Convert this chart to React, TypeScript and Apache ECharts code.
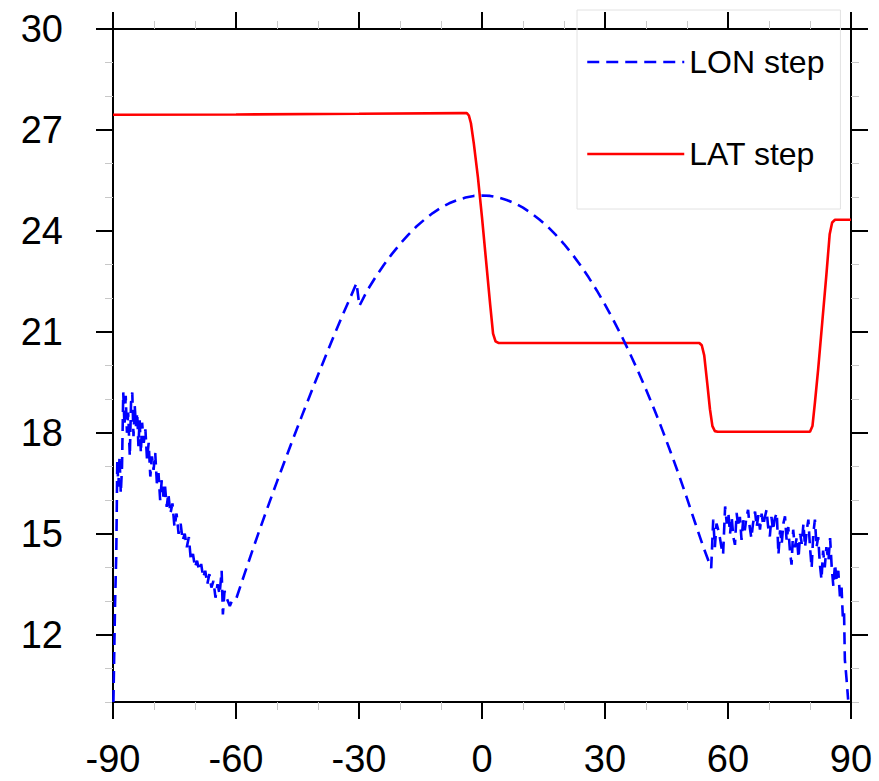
import React, { useEffect, useRef } from "react";
import * as echarts from "echarts";

const FONT = "'Liberation Sans', Arial, Helvetica, sans-serif";

// x axis ticks
const xMajorTicks = [-90, -60, -30, 0, 30, 60, 90];
// y axis ticks
const yMajorTicks = [12, 15, 18, 21, 24, 27, 30];
const yMinorTicks = [10, 11, 13, 14, 16, 17, 19, 20, 22, 23, 25, 26, 28, 29];

const seriesNames = ["LON step", "LAT step"];

// LON step (blue, dashed) — west noisy part
const lonWestNoisy: [number, number][] = [
  [-89.9, 10.0], [-89.5, 12.9], [-89.2, 14.4], [-88.95, 17.2], [-88.7, 16.4], [-88.4, 17.3],
  [-88.1, 16.2], [-87.8, 17.0], [-87.5, 19.2], [-87.2, 18.2], [-86.9, 19.1], [-86.6, 18.0],
  [-86.3, 18.6], [-85.9, 17.3], [-85.6, 18.9], [-85.3, 19.2], [-85.0, 17.9], [-84.7, 18.8],
  [-84.4, 18.2], [-84.1, 18.6], [-83.8, 17.6], [-83.5, 18.4], [-83.2, 17.4], [-82.9, 18.3],
  [-82.5, 17.7], [-82.1, 18.1], [-81.7, 17.2], [-81.3, 17.7], [-80.9, 16.7], [-80.5, 17.3],
  [-80.1, 16.9], [-79.7, 17.4], [-79.3, 16.5], [-78.9, 16.8], [-78.5, 16.0], [-78.1, 16.6],
  [-77.7, 16.1], [-77.3, 16.4], [-76.9, 15.8], [-76.5, 16.2], [-76.0, 15.6], [-75.5, 15.9],
  [-75.0, 15.2], [-74.5, 15.6], [-74.0, 15.0], [-73.5, 15.3], [-73.0, 14.8], [-72.5, 15.0],
  [-72.0, 14.6], [-71.5, 14.9], [-71.0, 14.2], [-70.5, 14.4], [-70.0, 14.0], [-69.5, 14.2],
  [-69.0, 13.9], [-68.5, 14.1], [-68.0, 13.7], [-67.5, 13.9], [-67.0, 13.5], [-66.5, 13.8],
  [-66.0, 13.4], [-65.5, 13.6], [-65.0, 13.1], [-64.5, 13.5], [-64.0, 13.2], [-63.5, 13.9],
  [-63.2, 12.6], [-62.8, 13.3], [-62.3, 13.1], [-61.5, 12.85], [-61.0, 13.0],
];

// LON step — western arc up to the break near -30
const lonWestArc: [number, number][] = [
  [-60.0, 13.05], [-58.0, 13.78], [-56.0, 14.5], [-54.0, 15.2], [-52.0, 15.88], [-50.0, 16.55],
  [-48.0, 17.2], [-46.0, 17.85], [-44.0, 18.48], [-42.0, 19.1], [-40.0, 19.72], [-38.0, 20.32],
  [-36.0, 20.92], [-34.0, 21.5], [-32.0, 22.05], [-30.6, 22.45],
];

// LON step — main arc
const lonMainArc: [number, number][] = [
  [-29.9, 21.77], [-28, 22.23], [-26, 22.62], [-24, 22.98], [-22, 23.31], [-20, 23.61],
  [-18, 23.88], [-16, 24.13], [-14, 24.34], [-12, 24.53], [-10, 24.69], [-8, 24.82],
  [-6, 24.92], [-4, 24.99], [-2, 25.04], [0, 25.05], [2, 25.04], [4, 24.99], [6, 24.92],
  [8, 24.82], [10, 24.69], [12, 24.53], [14, 24.34], [16, 24.13], [18, 23.88], [20, 23.61],
  [22, 23.31], [24, 22.98], [26, 22.62], [28, 22.23], [30, 21.81], [32, 21.36], [34, 20.89],
  [36, 20.38], [38, 19.85], [40, 19.29], [42, 18.7], [44, 18.08], [46, 17.43], [48, 16.76],
  [50, 16.05], [52, 15.32], [54, 14.6], [55.9, 13.98],
];

// LON step — east noisy part
const lonEastNoisy: [number, number][] = [
  [56.4, 15.42], [56.8, 14.6], [57.2, 15.3], [57.6, 15.12], [58.0, 14.9], [58.4, 14.6],
  [58.8, 14.38], [59.3, 15.81], [59.7, 15.3], [60.1, 15.6], [60.5, 15.0], [60.9, 15.5],
  [61.3, 14.9], [61.7, 14.67], [62.1, 15.62], [62.5, 15.2], [62.9, 15.5], [63.3, 14.82],
  [63.7, 15.4], [64.1, 15.1], [64.5, 15.5], [64.9, 15.71], [65.3, 15.2], [65.7, 14.87],
  [66.1, 15.3], [66.6, 15.66], [67.0, 15.2], [67.4, 15.55], [67.8, 15.12], [68.2, 15.6],
  [68.6, 15.25], [69.0, 15.5], [69.4, 15.71], [69.8, 15.2], [70.2, 14.92], [70.6, 15.5],
  [71.0, 15.1], [71.4, 15.45], [71.9, 15.62], [72.3, 14.38], [72.7, 15.1], [73.1, 14.7],
  [73.5, 15.3], [73.9, 15.52], [74.3, 14.8], [74.7, 15.2], [75.1, 14.5], [75.5, 14.08],
  [75.9, 15.12], [76.3, 14.6], [76.8, 14.9], [77.2, 14.28], [77.6, 15.0], [78.0, 14.7],
  [78.4, 15.3], [78.8, 14.6], [79.2, 15.1], [79.6, 15.42], [80.0, 14.6], [80.4, 13.98],
  [80.8, 15.0], [81.2, 15.42], [81.6, 14.6], [82.0, 14.9], [82.4, 14.1], [82.8, 13.64],
  [83.2, 14.5], [83.6, 14.0], [84.0, 14.6], [84.5, 14.2], [84.9, 14.87], [85.3, 14.0],
  [85.7, 13.44], [86.1, 14.1], [86.5, 13.6], [86.9, 13.9], [87.3, 13.14], [87.7, 13.4],
  [88.0, 12.54], [88.3, 12.7], [88.5, 11.26], [88.9, 10.7], [89.3, 10.07],
];

// LAT step (red, solid)
const latStep: [number, number][] = [
  [-90, 27.45], [-60, 27.46], [-30, 27.48], [-5, 27.5], [-3.7, 27.5], [-3.2, 27.43],
  [-2.7, 27.2], [-2, 26.6], [-1, 25.6], [0, 24.4], [1, 23.1], [2, 21.8], [2.7, 20.95],
  [3.3, 20.72], [4, 20.67], [30, 20.67], [53, 20.67], [53.6, 20.6], [54.2, 20.3],
  [55, 19.4], [55.6, 18.7], [56.2, 18.2], [56.8, 18.05], [57.5, 18.03], [80, 18.03],
  [80.6, 18.2], [81.2, 18.9], [82, 19.9], [83, 21.3], [84, 22.7], [84.8, 23.9],
  [85.4, 24.25], [86.1, 24.33], [90, 24.33],
];

const lonStep = [...lonWestNoisy, ...lonWestArc, ...lonMainArc, ...lonEastNoisy];

export default function App() {
  const ref = useRef<HTMLDivElement>(null);

  useEffect(() => {
    document.body.style.margin = "0";
    if (!ref.current) return;
    const chart = echarts.init(ref.current, null, { renderer: "svg" });

    const axisLineStyle = { color: "#000", width: 2 };
    const majorTick = { show: true, inside: false, length: 17, lineStyle: { color: "#000", width: 2 } };
    const minorTickStyle = { color: "#c8c8c8", width: 1 };

    const xBase = (position: "bottom" | "top", showLabel: boolean) => ({
      type: "value",
      position,
      min: -90,
      max: 90,
      interval: 30,
      axisLine: { show: true, onZero: false, lineStyle: axisLineStyle },
      axisTick: { ...majorTick },
      minorTick: { show: true, splitNumber: 3, length: 8, lineStyle: minorTickStyle },
      axisLabel: {
        show: showLabel,
        fontSize: 38,
        color: "#000",
        fontFamily: FONT,
        margin: 38,
        customValues: xMajorTicks,
      },
      splitLine: { show: false },
      minorSplitLine: { show: false },
    });

    const yMajor = (position: "left" | "right", showLabel: boolean) => ({
      type: "value",
      position,
      min: 10,
      max: 30,
      axisLine: { show: true, onZero: false, lineStyle: axisLineStyle },
      axisTick: { ...majorTick, customValues: yMajorTicks },
      axisLabel: {
        show: showLabel,
        fontSize: 38,
        color: "#000",
        fontFamily: FONT,
        margin: 50,
        customValues: yMajorTicks,
      },
      splitLine: { show: false },
    });

    const yMinor = (position: "left" | "right") => ({
      type: "value",
      position,
      min: 10,
      max: 30,
      axisLine: { show: false, onZero: false },
      axisTick: { show: true, inside: false, length: 8, lineStyle: minorTickStyle, customValues: yMinorTicks },
      axisLabel: { show: false },
      splitLine: { show: false },
    });

    chart.setOption({
      animation: false,
      backgroundColor: "#fff",
      grid: { left: 113, top: 29, right: 28, bottom: 79, containLabel: false },
      xAxis: [xBase("bottom", true), xBase("top", false)],
      yAxis: [yMinor("left"), yMinor("right"), yMajor("left", true), yMajor("right", false)],
      legend: {
        orient: "vertical",
        left: 577,
        top: 10,
        padding: [36, 16, 39, 9],
        itemWidth: 97,
        itemHeight: 14,
        itemGap: 60,
        borderColor: "#e2e2e2",
        borderWidth: 1,
        itemStyle: { opacity: 0 },
        lineStyle: { width: 2.5 },
        textStyle: { fontSize: 32, color: "#000", fontFamily: FONT },
        data: seriesNames,
      },
      series: [
        {
          name: seriesNames[0],
          type: "line",
          xAxisIndex: 0,
          yAxisIndex: 2,
          data: lonStep,
          showSymbol: false,
          symbol: "none",
          clip: true,
          lineStyle: { color: "#0000ff", width: 2.6, type: [12, 7] },
          itemStyle: { color: "#0000ff" },
          z: 3,
        },
        {
          name: seriesNames[1],
          type: "line",
          xAxisIndex: 0,
          yAxisIndex: 2,
          data: latStep,
          showSymbol: false,
          symbol: "none",
          clip: true,
          lineStyle: { color: "#ff0000", width: 2.6 },
          itemStyle: { color: "#ff0000" },
          z: 2,
        },
      ],
    });

    return () => chart.dispose();
  }, []);

  return (
    <div
      ref={ref}
      style={{ position: "fixed", left: 0, top: 0, width: 879, height: 781 }}
    />
  );
}
